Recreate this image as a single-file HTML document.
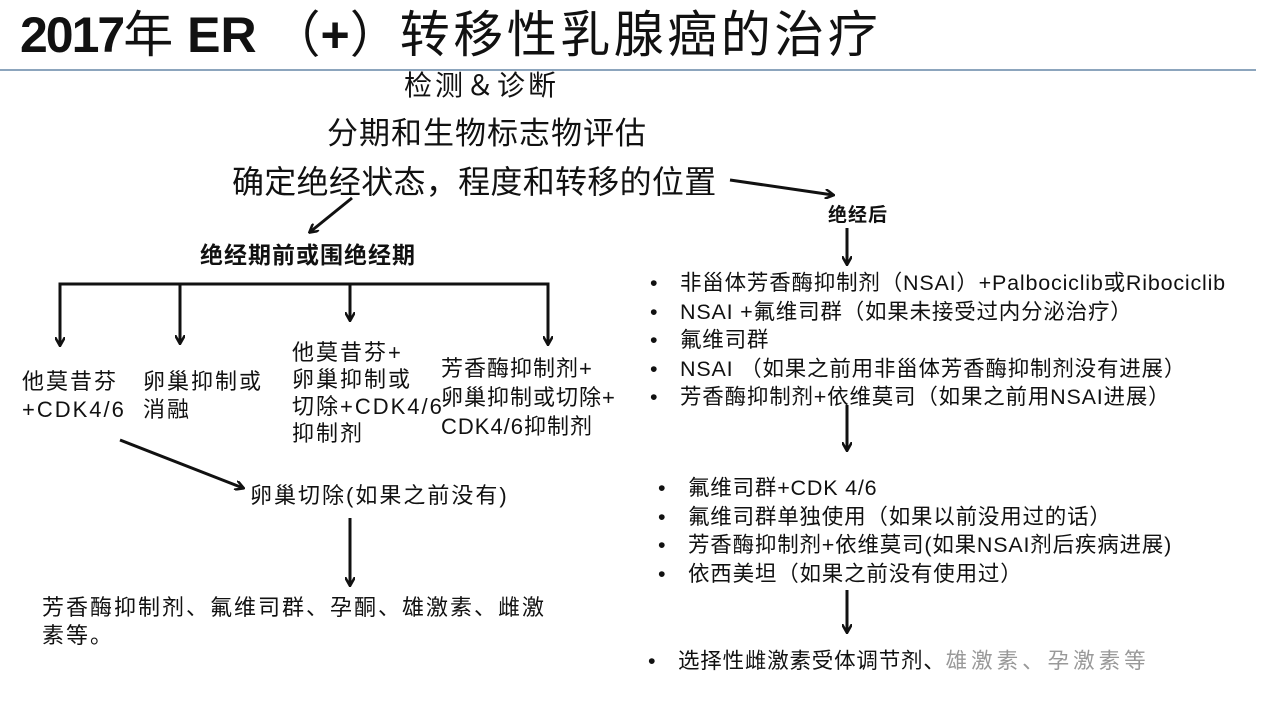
<!DOCTYPE html>
<html><head><meta charset="utf-8"><style>
body{margin:0;width:1280px;height:720px;background:#fff;position:relative;overflow:hidden;font-family:"Liberation Sans","Noto Sans CJK SC",sans-serif;color:#111}
.t{position:absolute;white-space:nowrap;line-height:1}
.b{position:absolute;font-size:22px;letter-spacing:2px;line-height:28px;white-space:nowrap}
ul{position:absolute;margin:0;padding:0;list-style:none;font-size:21.5px;letter-spacing:0.8px;line-height:28.5px;white-space:nowrap}
li{position:relative}
li:before{content:"•";position:absolute;left:-30px}
</style></head><body>
<div class="t" style="left:20px;top:10px;font-size:50px"><b style="letter-spacing:-2px">2017</b>年 <b>ER</b> （<b>+</b>）<span style="letter-spacing:3.5px">转移性乳腺癌的治疗</span></div>
<div style="position:absolute;left:0;top:69px;width:1256px;height:2px;background:#8ca5bd"></div>
<div class="t" style="left:404px;top:72px;font-size:28px;letter-spacing:3px">检测＆诊断</div>
<div class="t" style="left:327px;top:118px;font-size:31px;letter-spacing:1px">分期和生物标志物评估</div>
<div class="t" style="left:232px;top:166px;font-size:32px;letter-spacing:0.3px">确定绝经状态，程度和转移的位置</div>
<div class="t" style="left:828px;top:206px;font-size:19px;font-weight:bold;letter-spacing:1px">绝经后</div>
<div class="t" style="left:200px;top:244px;font-size:23px;font-weight:bold;letter-spacing:1px">绝经期前或围绝经期</div>
<div class="b" style="left:22px;top:368px">他莫昔芬<br>+CDK4/6</div>
<div class="b" style="left:143px;top:368px">卵巢抑制或<br>消融</div>
<div class="b" style="left:292px;top:339px;line-height:27px">他莫昔芬+<br>卵巢抑制或<br>切除+CDK4/6<br>抑制剂</div>
<div class="b" style="left:441px;top:354px;line-height:29px;letter-spacing:1px">芳香酶抑制剂+<br>卵巢抑制或切除+<br>CDK4/6抑制剂</div>
<div class="b" style="left:250px;top:482px">卵巢切除(如果之前没有)</div>
<div class="b" style="left:42px;top:594px">芳香酶抑制剂、氟维司群、孕酮、雄激素、雌激<br>素等。</div>
<ul style="left:680px;top:269px">
<li>非甾体芳香酶抑制剂（NSAI）+Palbociclib或Ribociclib</li>
<li>NSAI +氟维司群（如果未接受过内分泌治疗）</li>
<li>氟维司群</li>
<li>NSAI （如果之前用非甾体芳香酶抑制剂没有进展）</li>
<li>芳香酶抑制剂+依维莫司（如果之前用NSAI进展）</li>
</ul>
<ul style="left:688px;top:474px">
<li>氟维司群+CDK 4/6</li>
<li>氟维司群单独使用（如果以前没用过的话）</li>
<li>芳香酶抑制剂+依维莫司(如果NSAI剂后疾病进展)</li>
<li>依西美坦（如果之前没有使用过）</li>
</ul>
<ul style="left:678px;top:647px">
<li>选择性雌激素受体调节剂、<span style="color:#999;letter-spacing:4px">雄激素、孕激素等</span></li>
</ul>
<svg width="1280" height="720" style="position:absolute;left:0;top:0">
<defs><marker id="a" markerWidth="10" markerHeight="10" refX="8" refY="5" orient="auto" markerUnits="userSpaceOnUse"><path d="M0,0 L9,5 L0,10" fill="none" stroke="#111" stroke-width="2.5"/></marker></defs>
<g stroke="#111" stroke-width="3" fill="none">
<line x1="352" y1="198" x2="310" y2="232" marker-end="url(#a)"/>
<line x1="730" y1="180" x2="833" y2="195" marker-end="url(#a)"/>
<line x1="847" y1="228" x2="847" y2="264" marker-end="url(#a)"/>
<polyline points="60,345 60,284 548,284 548,344"/>
<line x1="548" y1="300" x2="548" y2="344" marker-end="url(#a)"/>
<line x1="60" y1="300" x2="60" y2="345" marker-end="url(#a)"/>
<line x1="180" y1="284" x2="180" y2="343" marker-end="url(#a)"/>
<line x1="350" y1="284" x2="350" y2="320" marker-end="url(#a)"/>
<line x1="120" y1="440" x2="243" y2="488" marker-end="url(#a)"/>
<line x1="350" y1="518" x2="350" y2="585" marker-end="url(#a)"/>
<line x1="847" y1="405" x2="847" y2="450" marker-end="url(#a)"/>
<line x1="847" y1="590" x2="847" y2="632" marker-end="url(#a)"/>
</g>
</svg>
</body></html>
